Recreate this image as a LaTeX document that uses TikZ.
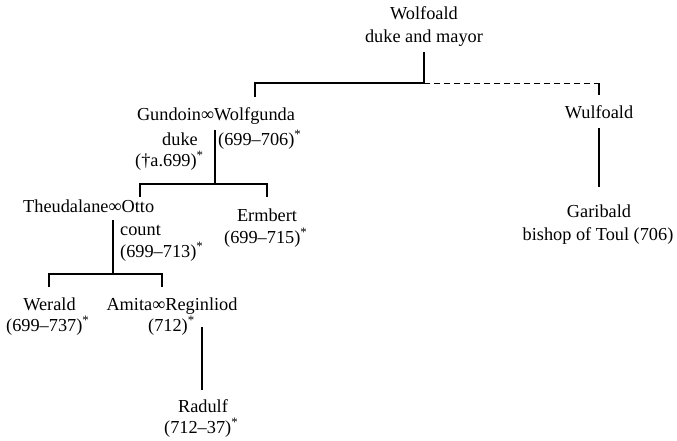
\documentclass[tikz,border=0pt]{standalone}
\usepackage{fontspec}
\setmainfont{Liberation Serif}
\newcommand{\src}{\textsuperscript{*}}
\begin{document}
\begin{tikzpicture}[x=1pt,y=-1pt,
  every node/.style={font=\fontsize{18.3}{23}\selectfont, inner sep=0pt},
  lbl/.style={anchor=base},
  lblw/.style={anchor=base west},
  link/.style={line width=1.4pt},
  uncertain/.style={line width=1pt, dash pattern=on 6pt off 4pt}]
\useasboundingbox (0,0) rectangle (677,440);

% people
\node[lbl] (wolfoald) at (424,19) {Wolfoald};
\node[lbl] (wolfoaldT) at (424,42) {duke and mayor};

\node[lbl] (gundoin) at (216,120) {Gundoin∞Wolfgunda};
\node[lblw] (gundoinT) at (162,145) {duke};
\node[lblw] (gundoinD) at (135,166) {(†a.699)\src};
\node[lblw] (wolfgundaD) at (218,145) {(699–706)\src};

\node[lbl] (wulfoald) at (599,118) {Wulfoald};
\node[lbl] (garibald) at (599,217) {Garibald};
\node[lbl] (garibaldT) at (598,240) {bishop of Toul (706)};

\node[lblw] (otto) at (23,212) {Theudalane∞Otto};
\node[lblw] (ottoT) at (120,235) {count};
\node[lblw] (ottoD) at (120,257) {(699–713)\src};

\node[lbl] (ermbert) at (267,221) {Ermbert};
\node[lblw] (ermbertD) at (224,243) {(699–715)\src};

\node[lbl] (werald) at (49.5,310) {Werald};
\node[lblw] (weraldD) at (6,331) {(699–737)\src};

\node[lbl] (amita) at (172,310) {Amita∞Reginliod};
\node[lblw] (amitaD) at (148,331) {(712)\src};

\node[lbl] (radulf) at (203,412) {Radulf};
\node[lblw] (radulfD) at (164,433) {(712–37)\src};

% junction points of the tree
\coordinate (w0) at (424,52);
\coordinate (w1) at (424,83);
\coordinate (wl) at (255,83);
\coordinate (wld) at (255,97);
\coordinate (wr) at (599,83);
\coordinate (wrd) at (599,95);

\coordinate (g0) at (215,130);
\coordinate (g1) at (215,184);
\coordinate (gl) at (140,184);
\coordinate (gld) at (140,197);
\coordinate (gr) at (267,184);
\coordinate (grd) at (267,197);

\coordinate (o0) at (113,220);
\coordinate (o1) at (113,274);
\coordinate (ol) at (49,274);
\coordinate (old) at (49,287);
\coordinate (or) at (162,274);
\coordinate (ord) at (162,287);

\coordinate (a0) at (202,327);
\coordinate (a1) at (202,390);

\coordinate (u0) at (599,128);
\coordinate (u1) at (599,187);

% lines of descent
\draw[link] (w0) -- (w1) -- (wl) -- (wld);
\draw[uncertain] (w1) -- (wr);
\draw[link] (wr) -- (wrd);
\draw[link] (g0) -- (g1);
\draw[link] (gld) -- (gl) -- (gr) -- (grd);
\draw[link] (o0) -- (o1);
\draw[link] (old) -- (ol) -- (or) -- (ord);
\draw[link] (a0) -- (a1);
\draw[link] (u0) -- (u1);
\end{tikzpicture}
\end{document}
